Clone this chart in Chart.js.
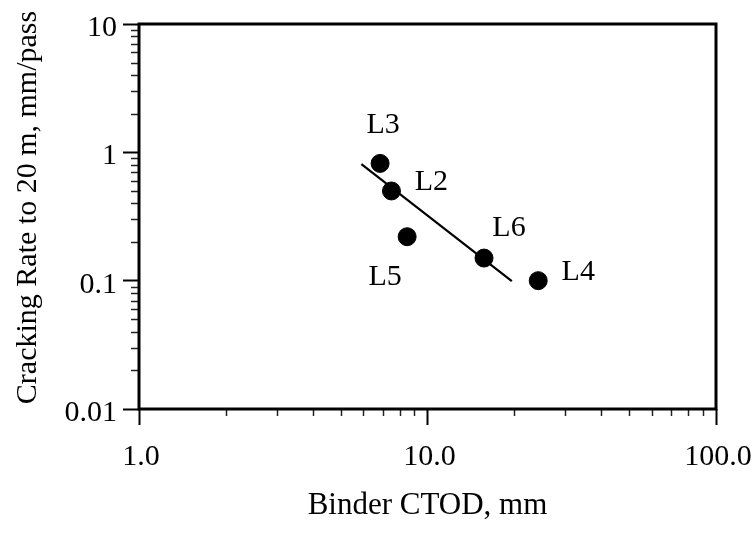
<!DOCTYPE html>
<html>
<head>
<meta charset="utf-8">
<script src="https://cdn.jsdelivr.net/npm/chart.js@4.4.1/dist/chart.umd.min.js"></script>
<style>
  html, body { margin: 0; padding: 0; background: #fff; }
  #wrap { width: 756px; height: 536px; }
</style>
</head>
<body>
<div id="wrap"><canvas id="c" width="756" height="536"></canvas></div>
<script>
// ---- data ----
const pointLabels = ['L3', 'L2', 'L5', 'L6', 'L4'];
const ctodValues  = [6.85, 7.5, 8.5, 15.7, 24.2];
const rateValues  = [0.82, 0.50, 0.22, 0.15, 0.10];

const fitX = [5.9, 19.6];
const fitY = [0.81, 0.099];

const xTickValues = [1, 10, 100];
const xTickLabels = ['1.0', '10.0', '100.0'];
const yTickValues = [0.01, 0.1, 1, 10];
const yTickLabels = ['0.01', '0.1', '1', '10'];

const xTitle = 'Binder CTOD, mm';
const yTitle = 'Cracking Rate to 20 m, mm/pass';

// ---- styles ----
const FONT = 'Liberation Serif, Times New Roman, serif';
const labelOffsets = [[3, -38], [40, -9], [-22, 40], [25, -30], [40, -9]];

const minorTicks = {
  id: 'minorTicks',
  afterDraw(chart) {
    const ctx = chart.ctx;
    const a = chart.chartArea;
    const xs = chart.scales.x, ys = chart.scales.y;
    ctx.save();
    ctx.strokeStyle = '#222';
    ctx.lineWidth = 1.5;
    for (let d = 0; d < xTickValues.length - 1; d++) {
      for (let m = 2; m <= 9; m++) {
        const px = Math.round(xs.getPixelForValue(xTickValues[d] * m)) + 0.5;
        ctx.beginPath(); ctx.moveTo(px, a.bottom); ctx.lineTo(px, a.bottom + 7); ctx.stroke();
      }
    }
    for (let d = 0; d < yTickValues.length - 1; d++) {
      for (let m = 2; m <= 9; m++) {
        const py = Math.round(ys.getPixelForValue(yTickValues[d] * m)) + 0.5;
        ctx.beginPath(); ctx.moveTo(a.left, py); ctx.lineTo(a.left - 8, py); ctx.stroke();
      }
    }
    ctx.strokeStyle = '#000';
    ctx.lineWidth = 3;
    ctx.strokeRect(a.left, a.top, a.right - a.left, a.bottom - a.top);
    ctx.fillStyle = '#000';
    ctx.font = '30px ' + FONT;
    ctx.textAlign = 'center';
    ctx.textBaseline = 'middle';
    ctx.translate(28, (a.top + a.bottom) / 2 - 9);
    ctx.rotate(-Math.PI / 2);
    ctx.fillText(yTitle, 0, 0);
    ctx.restore();
  }
};

const pointText = {
  id: 'pointText',
  afterDatasetsDraw(chart) {
    const ctx = chart.ctx;
    const meta = chart.getDatasetMeta(0);
    ctx.save();
    ctx.fillStyle = '#000';
    ctx.font = '30px ' + FONT;
    ctx.textAlign = 'center';
    ctx.textBaseline = 'middle';
    meta.data.forEach((el, i) => {
      const off = labelOffsets[i];
      ctx.fillText(pointLabels[i], el.x + off[0], el.y + off[1]);
    });
    ctx.restore();
  }
};

new Chart(document.getElementById('c'), {
  data: {
    datasets: [
      {
        type: 'scatter',
        data: ctodValues.map((x, i) => ({ x: x, y: rateValues[i] })),
        backgroundColor: '#000',
        borderColor: '#000',
        pointRadius: 9,
        pointHoverRadius: 9,
        order: 0
      },
      {
        type: 'line',
        data: fitX.map((x, i) => ({ x: x, y: fitY[i] })),
        borderColor: '#000',
        borderWidth: 2.2,
        pointRadius: 0,
        fill: false,
        order: 1
      }
    ]
  },
  options: {
    responsive: false,
    animation: false,
    events: [],
    layout: { padding: { left: 0, top: 24, right: 40, bottom: 0 } },
    plugins: { legend: { display: false }, tooltip: { enabled: false } },
    scales: {
      x: {
        type: 'logarithmic',
        min: 1, max: 100,
        afterFit(s) { s.height = 127; s.paddingLeft = 0; s.paddingRight = 0; },
        afterBuildTicks(s) { s.ticks = xTickValues.map(v => ({ value: v })); },
        border: { display: false },
        grid: { drawOnChartArea: false, tickLength: 16, tickWidth: 2, tickColor: '#000' },
        ticks: {
          autoSkip: false, maxRotation: 0, padding: 14, labelOffset: 2, color: '#000',
          font: { family: FONT, size: 30 },
          callback: (v) => { const k = xTickValues.indexOf(v); return k >= 0 ? xTickLabels[k] : ''; }
        },
        title: { display: true, text: xTitle, color: '#000', font: { family: FONT, size: 31 }, padding: { top: 0, bottom: 12 } }
      },
      y: {
        type: 'logarithmic',
        min: 0.01, max: 10,
        afterFit(s) { s.width = 139; s.paddingTop = 0; s.paddingBottom = 0; },
        afterBuildTicks(s) { s.ticks = yTickValues.map(v => ({ value: v })); },
        border: { display: false },
        grid: { drawOnChartArea: false, tickLength: 16, tickWidth: 2, tickColor: '#000' },
        ticks: {
          autoSkip: false, padding: 6, labelOffset: 4, color: '#000',
          font: { family: FONT, size: 30 },
          callback: (v) => { const k = yTickValues.findIndex(t => Math.abs(t - v) < 1e-9); return k >= 0 ? yTickLabels[k] : ''; }
        },
        title: { display: false }
      }
    }
  },
  plugins: [minorTicks, pointText]
});
</script>
</body>
</html>
